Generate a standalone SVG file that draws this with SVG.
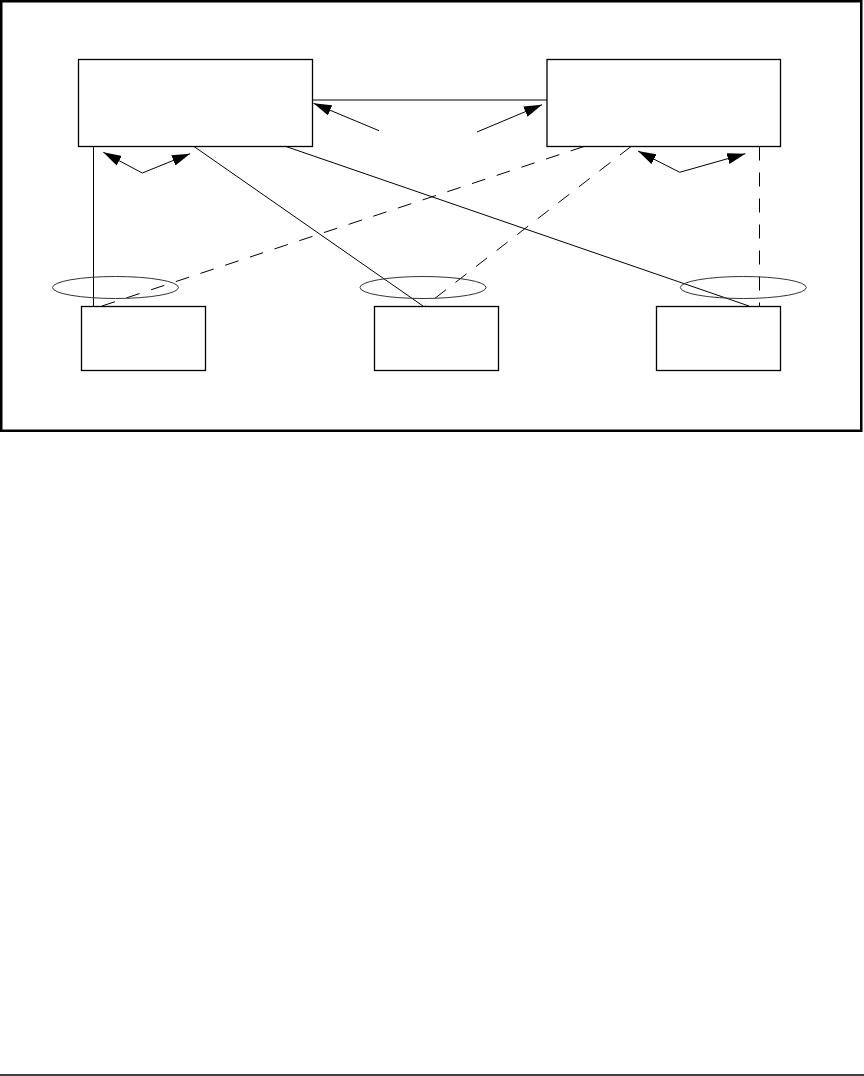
<svg xmlns="http://www.w3.org/2000/svg" width="864" height="1076" viewBox="0 0 864 1076">
<style>
.box{fill:#fff;stroke:#000;stroke-width:1.3}
.ell{fill:none;stroke:#333;stroke-width:1}
.ln{fill:none;stroke:#000;stroke-width:1}
.dash{fill:none;stroke:#000;stroke-width:1;stroke-dasharray:14 12}
.arr{fill:none;stroke:#000;stroke-width:1;marker-end:url(#ah)}
.biarr{fill:none;stroke:#000;stroke-width:1;marker-start:url(#ah);marker-end:url(#ah)}
</style>
<defs>
<marker id="ah" markerUnits="userSpaceOnUse" markerWidth="18" markerHeight="11" refX="18" refY="5.5" orient="auto-start-reverse">
<path d="M0,0 L18,5.5 L0,11 z" fill="#000"/>
</marker>
</defs>
<rect x="0" y="0" width="864" height="1076" fill="#fff"/>
<rect id="frame" x="1.25" y="1.25" width="860" height="429.5" fill="none" stroke="#000" stroke-width="2.5"/>
<line x1="0" y1="1075" x2="864" y2="1075" stroke="#000" stroke-width="1.5"/>
<g id="connectors">
<line class="ln" x1="313" y1="100" x2="547" y2="100"/>
<line class="ln" x1="93.5" y1="146.5" x2="93.5" y2="308"/>
<line class="ln" x1="194" y1="146.5" x2="423" y2="306"/>
<line class="ln" x1="286" y1="146.5" x2="749" y2="306"/>
<line class="dash" x1="584" y1="146.5" x2="102" y2="306"/>
<line class="dash" x1="631" y1="146.5" x2="425" y2="306"/>
<line class="dash" x1="759.5" y1="146.5" x2="759.5" y2="306"/>
<line class="arr" x1="379" y1="130.7" x2="313.5" y2="103.3"/>
<line class="arr" x1="477" y1="132" x2="542" y2="104.7"/>
<polyline class="biarr" points="103.3,152.3 142.3,173 190,153.7"/>
<polyline class="biarr" points="638,151 679.7,172.3 745.3,153.7"/>
</g>
<g id="nodeA"><rect class="box" x="78.5" y="59.5" width="234" height="87"/></g>
<g id="nodeB"><rect class="box" x="547" y="59.5" width="233.5" height="87"/></g>
<g id="nodeC"><rect class="box" x="81.5" y="306.5" width="124" height="64"/></g>
<g id="nodeD"><rect class="box" x="374.5" y="306.5" width="124" height="64"/></g>
<g id="nodeE"><rect class="box" x="656.5" y="306.5" width="124" height="64"/></g>
<g id="ellipseC"><ellipse class="ell" cx="115.5" cy="287.5" rx="63" ry="11"/></g>
<g id="ellipseD"><ellipse class="ell" cx="423" cy="287.5" rx="63" ry="11"/></g>
<g id="ellipseE"><ellipse class="ell" cx="743.3" cy="287.5" rx="63" ry="11"/></g>
</svg>
